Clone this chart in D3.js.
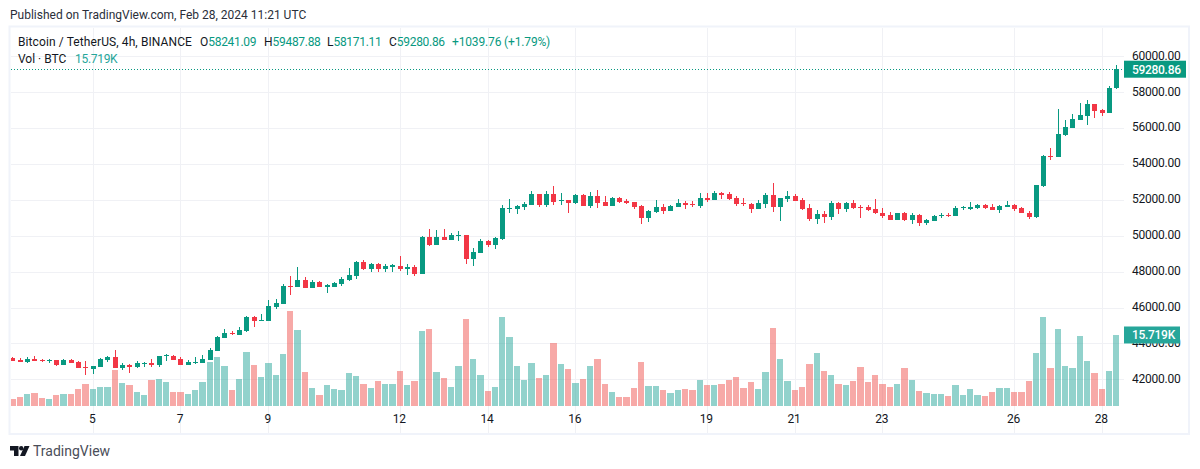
<!DOCTYPE html>
<html>
<head>
<meta charset="utf-8">
<script src="https://cdn.jsdelivr.net/npm/d3@7"></script>
<style>
  html, body { margin: 0; padding: 0; background: #fff; }
  svg { display: block; }
  text { font-family: Roboto, sans-serif; font-size: 12px; fill: #131722; }
  .axis path, .axis line { display: none; }
  .grid path { display: none; }
  .grid line { stroke: #f0f1f5; stroke-width: 1; shape-rendering: crispEdges; }
</style>
</head>
<body>
<svg id="chart" width="1200" height="469"></svg>
<script>
const firstCandle = Date.UTC(2024, 1, 3, 4)
const candleHours = 4

const opens = [
  43210, 43081, 42951, 43136, 43081, 43026, 43081, 42803, 43081, 42970,
  42692, 42582, 42692, 43081, 43247, 42637, 42803, 42692, 42859, 42914,
  42803, 43303, 43303, 43136, 42803, 42914, 42914, 43081, 43581, 44302,
  44580, 44469, 44691, 45467, 45245, 45245, 46022, 46189, 47188, 47132,
  47521, 47077, 47410, 47132, 47132, 47299, 47521, 47743, 48520, 48132,
  48409, 48132, 48243, 48298, 48132, 48243, 47854, 49907, 49464, 49907,
  49741, 49963, 50018, 48686, 49019, 49685, 49464, 49796, 51517, 51517,
  51628, 51739, 52350, 51739, 52350, 51961, 52017, 51850, 52294, 51683,
  52239, 51906, 51683, 52128, 51961, 51906, 51683, 50962, 51351, 51628,
  51406, 51628, 51850, 51795, 51683, 52128, 52017, 52405, 52350, 52128,
  51850, 51795, 51517, 51795, 52294, 51628, 52072, 52239, 52017, 51573,
  50906, 51184, 51017, 51850, 51517, 51850, 51628, 51628, 51517, 51295,
  51129, 50851, 51240, 50851, 51129, 50685, 50796, 51073, 51129, 51073,
  51573, 51517, 51573, 51739, 51628, 51461, 51628, 51739, 51573, 51295,
  51018, 52794, 54458, 54403, 55624, 56012, 56456, 56679, 57345, 57012, 56845, 58241.09
]

const highs = [
  43247, 43192, 43247, 43303, 43136, 43136, 43081, 43136, 43136, 43026,
  43026, 42748, 43192, 43303, 43636, 42914, 42859, 43026, 42970, 43136,
  43303, 43414, 43358, 43247, 43081, 43247, 43358, 43747, 44413, 44801,
  44691, 44912, 45523, 45523, 45634, 46411, 46466, 47299, 47743, 48243,
  47688, 47521, 47466, 47299, 47410, 47688, 48187, 48576, 48631, 48465,
  48465, 48409, 48409, 48853, 48409, 48354, 49963, 50351, 50296, 50351,
  50129, 50240, 50018, 49297, 49796, 49741, 49907, 51739, 52072, 51739,
  51906, 52516, 52350, 52516, 52793, 52405, 52017, 52350, 52350, 52460,
  52571, 52239, 52183, 52183, 52072, 51906, 51739, 51462, 52017, 51795,
  51739, 52072, 51961, 51961, 52405, 52405, 52516, 52460, 52460, 52239,
  52128, 51850, 52017, 52405, 52960, 52128, 52516, 52350, 52128, 51795,
  51462, 51406, 51961, 51906, 51906, 52017, 51739, 51739, 52072, 51573,
  51350, 51295, 51350, 51240, 51184, 50907, 51129, 51240, 51240, 51683,
  51683, 51906, 51795, 51795, 51795, 51739, 51961, 51795, 51628, 51406,
  52849, 54514, 54903, 57067, 56456, 56789, 57400, 57566, 57345, 57067, 58343, 59487.88
]

const lows = [
  43026, 42970, 42896, 43026, 42970, 42914, 42748, 42803, 42914, 42637,
  42249, 42304, 42692, 42970, 42637, 42526, 42360, 42637, 42692, 42692,
  42692, 43026, 43081, 42803, 42803, 42859, 42914, 43081, 43581, 44302,
  44469, 44469, 44635, 44912, 45245, 45245, 45911, 46189, 46689, 47132,
  47077, 47077, 47132, 46800, 47132, 47188, 47466, 47576, 48076, 47965,
  47965, 47965, 47965, 48020, 47798, 47743, 47854, 49408, 49464, 49741,
  49741, 49685, 48409, 48298, 49019, 49352, 49241, 49741, 51295, 51184,
  51462, 51739, 51628, 51628, 51739, 51739, 51295, 51795, 51683, 51573,
  51573, 51683, 51683, 51850, 51795, 51517, 50629, 50740, 51295, 51184,
  51406, 51628, 51517, 51628, 51573, 51906, 52017, 52072, 52017, 51683,
  51683, 51295, 51517, 51573, 51351, 50796, 51906, 51961, 51462, 50796,
  50629, 50684, 50851, 51184, 51351, 51517, 50962, 51406, 51184, 50962,
  50851, 50851, 50796, 50629, 50518, 50574, 50796, 50962, 51018, 51073,
  51461, 51461, 51517, 51517, 51461, 51295, 51628, 51406, 51240, 50907,
  50962, 52738, 54237, 54403, 55569, 56012, 56456, 56179, 56568, 56679, 56845, 58171.11
]

const closes = [
  43026, 42970, 43136, 43026, 43026, 43081, 42803, 43081, 42914, 42637,
  42637, 42748, 43136, 43247, 42637, 42803, 42692, 42914, 42914, 42803,
  43303, 43358, 43081, 42803, 42970, 42970, 43136, 43636, 44357, 44580,
  44524, 44746, 45467, 45245, 45301, 46078, 46245, 47188, 47132, 47521,
  47077, 47410, 47132, 47244, 47355, 47576, 47798, 48520, 48132, 48409,
  48132, 48298, 48354, 48132, 48243, 47854, 49907, 49464, 49907, 49741,
  50018, 50018, 48686, 49075, 49685, 49464, 49852, 51573, 51573, 51683,
  51795, 52350, 51739, 52350, 51906, 52017, 51850, 52294, 51683, 52239,
  51850, 51683, 52128, 51906, 51850, 51628, 50962, 51406, 51628, 51406,
  51683, 51850, 51739, 51739, 52128, 52017, 52405, 52294, 52072, 51795,
  51795, 51517, 51850, 52294, 51628, 52128, 52239, 51961, 51517, 50906,
  51184, 51017, 51850, 51517, 51850, 51573, 51573, 51462, 51240, 51073,
  50851, 51240, 50851, 51129, 50685, 50851, 51073, 51129, 51073, 51573,
  51628, 51628, 51739, 51573, 51461, 51683, 51739, 51517, 51240, 51018,
  52849, 54458, 54403, 55680, 56068, 56512, 56734, 57345, 56956, 56845, 58232, 59280.86
]

const volumes = [
  1476, 1919, 2583, 2804, 1697, 1476, 2362, 2583, 2583, 3690,
  4797, 3690, 4133, 4133, 7897, 5018, 4576, 3026, 2362, 5683,
  5904, 5240, 3026, 3026, 2583, 3469, 5240, 9668, 10775, 8782,
  3469, 5904, 11882, 9004, 6347, 9446, 6790, 11439, 20959, 16753,
  7528, 3985, 2435, 4649, 3764, 3542, 7306, 6642, 4871, 3985,
  5535, 4871, 4871, 7749, 4649, 5535, 16605, 17048, 7528, 6199,
  4207, 8856, 19262, 10406, 6863, 3321, 4207, 19705, 15277, 8856,
  5756, 9520, 6199, 6863, 13948, 9299, 8192, 5092, 5978, 8856,
  10406, 4871, 3100, 1993, 1993, 3985, 9742, 4428, 4428, 3542,
  2878, 3542, 3764, 3542, 5756, 4649, 4649, 4871, 5756, 6421,
  3985, 5314, 3764, 7528, 17269, 10406, 5535, 3542, 4207, 9299,
  11734, 7749, 6863, 4871, 4649, 5535, 8635, 5314, 6863, 4871,
  4207, 4871, 8413, 5756, 3321, 2878, 2657, 2657, 2214, 4649,
  2435, 3764, 2435, 2214, 3100, 3985, 3985, 3100, 3100, 5535,
  11734, 19705, 8413, 17048, 8856, 8413, 15498, 9963, 7306, 3764, 7749, 15719
]

const priceTicks = [42000, 44000, 46000, 48000, 50000, 52000, 54000, 56000, 58000, 60000]
const tickDays = [5, 7, 9, 12, 14, 16, 19, 21, 23, 26, 28]

const publishedText = 'Published on TradingView.com, Feb 28, 2024 11:21 UTC'
const symbolText = 'Bitcoin / TetherUS, 4h, BINANCE'
const changeText = '+1039.76 (+1.79%)'
const volumeTitle = 'Vol · BTC'
const volumeText = '15.719K'
const logoText = 'TradingView'

const upColor = '#089981'
const downColor = '#f23645'
const volumeColor = '#26a69a'
const upVolume = 'rgba(38,166,154,0.5)'
const downVolume = 'rgba(239,83,80,0.5)'

function candles () {
  const pane = { left: 11, right: 1124, top: 28, bottom: 433 }
  const svg = d3.select('#chart')
  const fmt = d3.format('.2f')
  const last = closes.length - 1
  const dates = closes.map((d, i) => new Date(firstCandle + i * candleHours * 36e5))
  const scales = {}

  const setupScales = () => {
    scales.x = d3.scaleUtc().domain([dates[0], dates[last]]).range([12.3, 1116.3])
    scales.y = d3.scaleLinear().domain([42000, 60000]).range([379.3, 56.3])
    scales.v = d3.scaleLinear().domain([0, volumes[last]]).range([405.7, 335])
  }

  const snap = i => Math.round(scales.x(dates[i]))

  const drawFrame = () => {
    svg.append('rect')
      .attr('x', pane.left - 1.5)
      .attr('y', pane.top - 1.5)
      .attr('width', 1189 - pane.left + 1.5)
      .attr('height', pane.bottom - pane.top + 2.5)
      .attr('fill', 'none')
      .attr('stroke', '#f0f3fa')
      .attr('stroke-width', 2)

    svg.append('clipPath')
      .attr('id', 'pane')
      .append('rect')
      .attr('x', pane.left)
      .attr('y', pane.top)
      .attr('width', pane.right - pane.left)
      .attr('height', pane.bottom - pane.top)
  }

  const drawGrid = g => {
    const days = tickDays.map(d => new Date(Date.UTC(2024, 1, d)))

    const gridX = d3.axisBottom(scales.x)
      .tickValues(days)
      .tickSize(pane.bottom - pane.top)
      .tickFormat('')
    g.append('g')
      .attr('class', 'grid')
      .attr('transform', `translate(0,${pane.top})`)
      .call(gridX)

    const gridY = d3.axisRight(scales.y)
      .tickValues(priceTicks)
      .tickSize(pane.right - pane.left)
      .tickFormat('')
    g.append('g')
      .attr('class', 'grid')
      .attr('transform', `translate(${pane.left},0)`)
      .call(gridY)

    const axisX = d3.axisBottom(scales.x)
      .tickValues(days)
      .tickSize(0)
      .tickPadding(0)
      .tickFormat(d3.utcFormat('%-d'))
    svg.append('g')
      .attr('class', 'axis axis-x')
      .attr('transform', `translate(-1,${pane.bottom - 19})`)
      .call(axisX)

    const axisY = d3.axisRight(scales.y)
      .tickValues(priceTicks)
      .tickSize(0)
      .tickPadding(8)
      .tickFormat(fmt)
    svg.append('g')
      .attr('class', 'axis axis-y')
      .attr('transform', `translate(${pane.right},-1)`)
      .call(axisY)

    svg.selectAll('.axis text')
      .style('font-size', '12px')
      .style('font-family', 'Roboto, sans-serif')
      .style('fill', '#131722')
      .style('letter-spacing', '-0.25px')
  }

  const drawVolumes = g => {
    const base = scales.v(0)
    g.append('g')
      .selectAll('rect')
      .data(volumes)
      .join('rect')
      .attr('x', (d, i) => snap(i) - 3)
      .attr('y', d => Math.round(scales.v(d)))
      .attr('width', (d, i) => (i < last ? snap(i + 1) - snap(i) - 1 : 6))
      .attr('height', d => Math.round(base) - Math.round(scales.v(d)))
      .attr('fill', (d, i) => (closes[i] >= opens[i] ? upVolume : downVolume))
      .attr('shape-rendering', 'crispEdges')
  }

  const drawCandles = g => {
    const layer = g.append('g')
      .selectAll('g')
      .data(closes)
      .join('g')
      .attr('fill', (d, i) => (d >= opens[i] ? upColor : downColor))
      .attr('shape-rendering', 'crispEdges')

    layer.append('rect')
      .attr('x', (d, i) => snap(i))
      .attr('y', (d, i) => scales.y(highs[i]))
      .attr('width', 1)
      .attr('height', (d, i) => scales.y(lows[i]) - scales.y(highs[i]))

    layer.append('rect')
      .attr('x', (d, i) => snap(i) - 2)
      .attr('y', (d, i) => scales.y(Math.max(d, opens[i])))
      .attr('width', 5)
      .attr('height', (d, i) => Math.max(1, Math.abs(scales.y(d) - scales.y(opens[i]))))
  }

  const drawLastPrice = () => {
    const y = scales.y(closes[last])

    svg.append('line')
      .attr('x1', pane.left)
      .attr('x2', pane.right)
      .attr('y1', Math.round(y) + 0.5)
      .attr('y2', Math.round(y) + 0.5)
      .attr('stroke', upColor)
      .attr('stroke-dasharray', '1 2')

    svg.append('rect')
      .attr('x', pane.right)
      .attr('y', y - 8.5)
      .attr('width', 62)
      .attr('height', 17)
      .attr('fill', upColor)

    svg.append('text')
      .attr('x', pane.right + 8)
      .attr('y', y + 4.3)
      .attr('font-weight', 500)
      .style('fill', '#fff')
      .style('letter-spacing', '-0.3px')
      .text(fmt(closes[last]))

    const vy = scales.v(volumes[last])

    svg.append('rect')
      .attr('x', pane.right)
      .attr('y', vy - 8.5)
      .attr('width', 56)
      .attr('height', 17)
      .attr('fill', volumeColor)

    svg.append('text')
      .attr('x', pane.right + 8)
      .attr('y', vy + 4.3)
      .attr('font-weight', 500)
      .style('fill', '#fff')
      .style('letter-spacing', '-0.3px')
      .text(volumeText)
  }

  const drawLegend = () => {
    svg.append('text')
      .attr('x', 10)
      .attr('y', 19)
      .style('fill', '#2a2e39')
      .text(publishedText)

    svg.append('text')
      .attr('x', 18)
      .attr('y', 46)
      .style('letter-spacing', '0.1px')
      .text(symbolText)

    const items = [
      ['O', opens[last], 200],
      ['H', highs[last], 264],
      ['L', lows[last], 327],
      ['C', closes[last], 389]
    ]
    items.forEach(d => {
      const t = svg.append('text').attr('x', d[2]).attr('y', 46)
      t.append('tspan').text(d[0])
      t.append('tspan').style('fill', upColor).style('letter-spacing', '-0.3px').text(fmt(d[1]))
    })

    svg.append('text')
      .attr('x', 452)
      .attr('y', 46)
      .style('fill', upColor)
      .style('letter-spacing', '-0.15px')
      .text(changeText)

    svg.append('text')
      .attr('x', 18)
      .attr('y', 63)
      .text(volumeTitle)

    svg.append('text')
      .attr('x', 75)
      .attr('y', 63)
      .style('fill', volumeColor)
      .style('letter-spacing', '-0.3px')
      .text(volumeText)
  }

  const drawLogo = () => {
    const logo = svg.append('g').attr('transform', 'translate(10,446)').attr('fill', '#131722')
    logo.append('path').attr('d', 'M0 0H8.5V10H4V4.5H0Z')
    logo.append('circle').attr('cx', 11.2).attr('cy', 2.2).attr('r', 2.2)
    logo.append('path').attr('d', 'M14.5 0H19.5L15 10H10Z')

    svg.append('text')
      .attr('x', 33)
      .attr('y', 456)
      .style('font-size', '14px')
      .style('fill', '#4a4e59')
      .text(logoText)
  }

  setupScales()
  drawFrame()
  const g = svg.append('g').attr('clip-path', 'url(#pane)')
  drawGrid(g)
  drawVolumes(g)
  drawCandles(g)
  drawLastPrice()
  drawLegend()
  drawLogo()
}

candles()
</script>
</body>
</html>
